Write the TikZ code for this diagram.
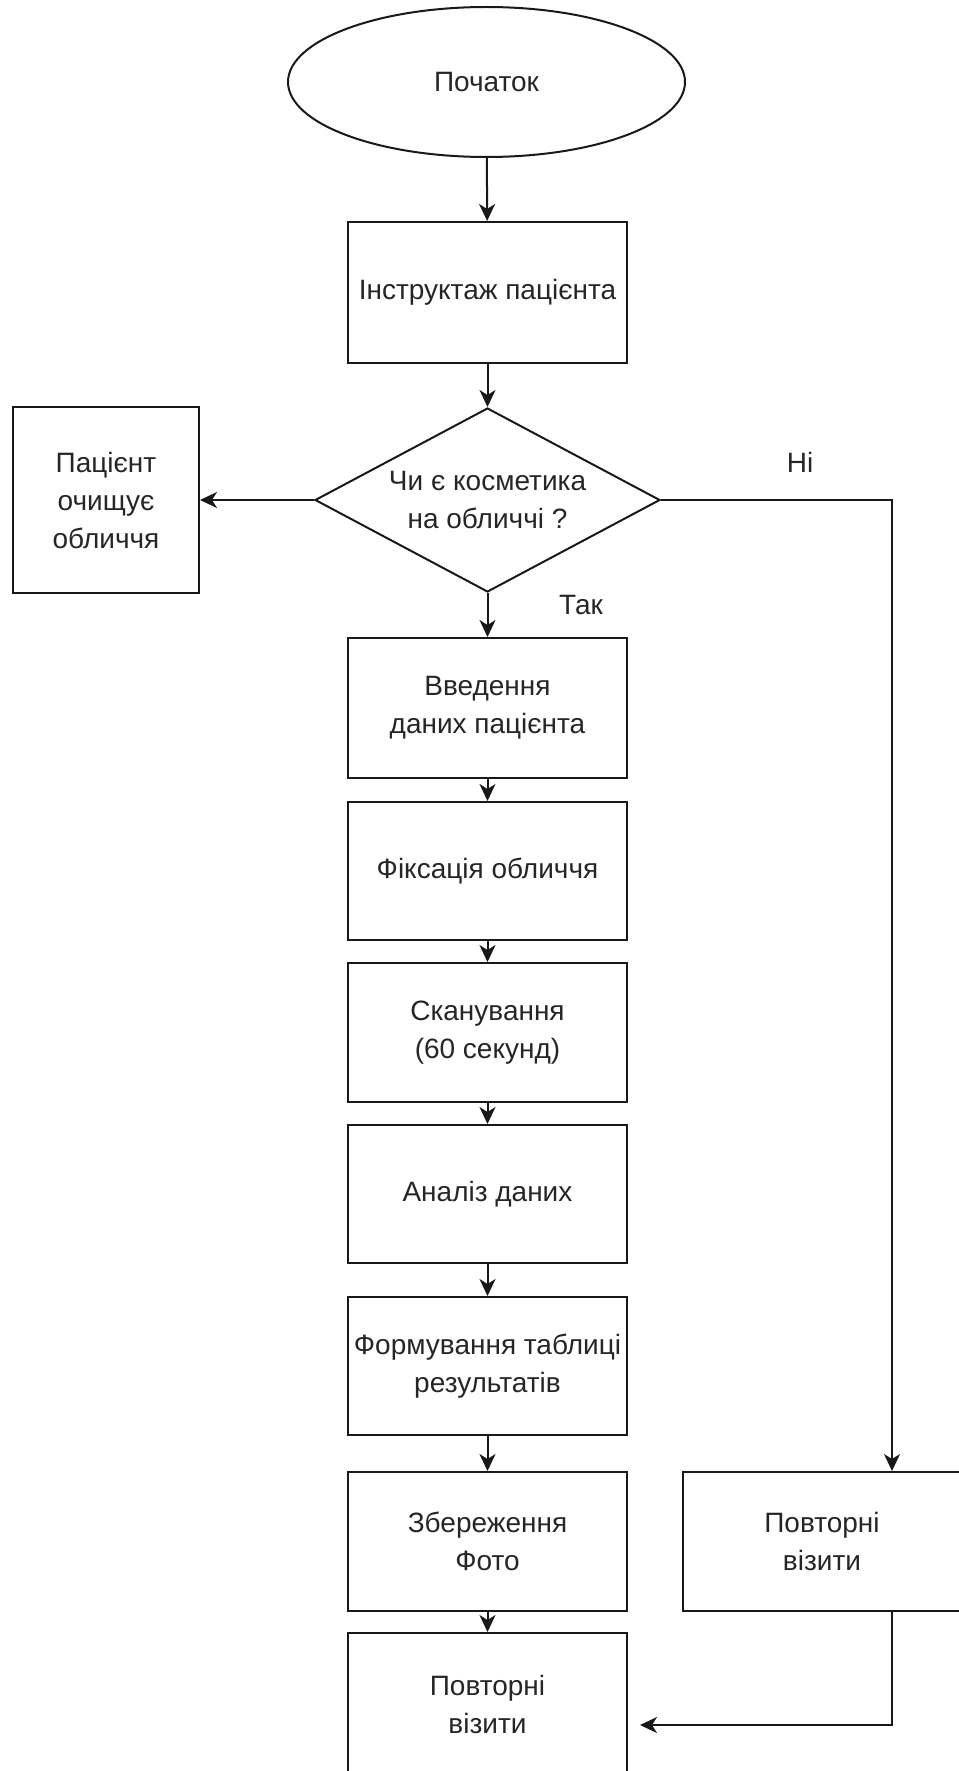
\documentclass[tikz,border=0pt]{standalone}
\usepackage{fontspec}
\setmainfont{Liberation Sans}
\usetikzlibrary{shapes.geometric,arrows.meta}

\begin{document}
\begin{tikzpicture}[x=1pt,y=-1pt,
  every node/.style={font=\fontsize{28}{38}\selectfont, align=center, text=black!85},
  line/.style={line width=2pt, draw=black!90},
  box/.style={line, draw, rectangle, minimum width=279pt, inner sep=0pt},
  arr/.style={line, -{Stealth[length=17pt,width=16pt,inset=5pt]}},
  lbl/.style={inner sep=0pt},
]
\useasboundingbox (0,0) rectangle (958,1771);

% start / instruction / decision
\node[line, draw, ellipse, minimum width=397pt, minimum height=150pt, inner sep=0pt]
  (start) at (486.5,82) {Початок};
\node[box, minimum height=141pt] (instr) at (487.5,292.5) {Інструктаж пацієнта};
\node[line, draw, diamond, aspect=1.875, minimum width=345pt, minimum height=184pt, inner sep=0pt]
  (dec) at (487.5,500) {Чи є косметика\\на обличчі ?};
\node[box, minimum width=186pt, minimum height=186pt] (clean) at (106,500)
  {Пацієнт\\очищує\\обличчя};

% main column
\node[box, minimum height=140pt] (input) at (487.5,708) {Введення\\даних пацієнта};
\node[box, minimum height=138pt] (fix)   at (487.5,871) {Фіксація обличчя};
\node[box, minimum height=139pt] (scan)  at (487.5,1032.5) {Сканування\\(60 секунд)};
\node[box, minimum height=138pt] (anal)  at (487.5,1194) {Аналіз даних};
\node[box, minimum height=138pt] (table) at (487.5,1366) {Формування таблиці\\результатів};
\node[box, minimum height=139pt] (save)  at (487.5,1541.5) {Збереження\\Фото};
\node[box, minimum height=142pt] (visit) at (487.5,1704) {Повторні\\візити};

% right branch
\node[box, minimum width=278pt, minimum height=139pt] (rvisit) at (822,1541.5) {Повторні\\візити};

% labels
\node[lbl] (yes) at (581,605) {Так};
\node[lbl] (no)  at (800,462) {Ні};

% connectors
\draw[arr] (start) -- (instr);
\draw[arr] (instr) -- (dec);
\draw[arr] (dec) -- (clean);
\draw[arr] (dec) -- (input);
\draw[arr] (input) -- (fix);
\draw[arr] (fix) -- (scan);
\draw[arr] (scan) -- (anal);
\draw[arr] (anal) -- (table);
\draw[arr] (table) -- (save);
\draw[arr] (save) -- (visit);
\draw[arr] (dec.east) -| ([xshift=70pt]rvisit.north);
\draw[arr, shorten >=12pt] ([xshift=70pt]rvisit.south) |- ([yshift=-21pt]visit.east);
\end{tikzpicture}
\end{document}
